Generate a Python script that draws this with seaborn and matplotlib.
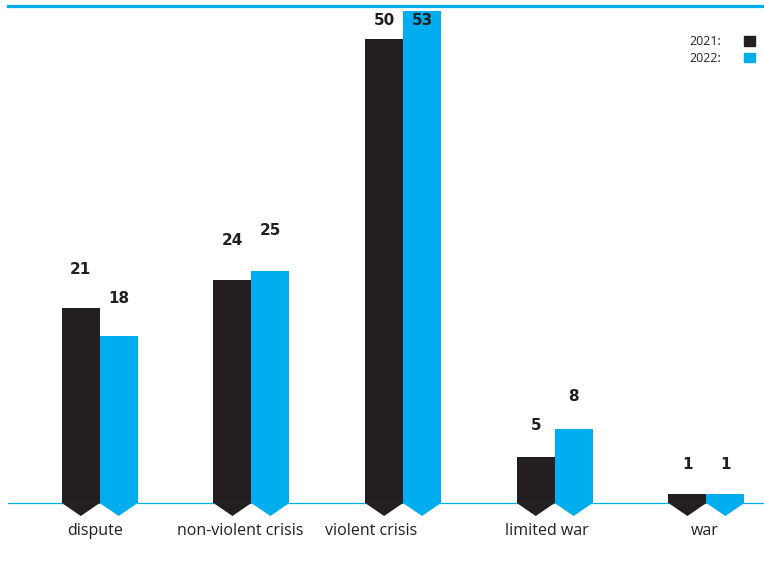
import pandas as pd
import matplotlib
matplotlib.use("Agg")
import matplotlib.pyplot as plt
from matplotlib.patches import Polygon
import seaborn as sns

# data
categories = ["dispute", "non-violent crisis", "violent crisis", "limited war", "war"]
years = ["2021", "2022"]
values_2021 = [21, 24, 50, 5, 1]
values_2022 = [18, 25, 53, 8, 1]

# small horizontal nudges of the category labels, as in the original layout
label_shift = [-0.033, -0.072, -0.21, -0.053, -0.013]

df = pd.DataFrame({
    "category": categories * 2,
    "year": [years[0]] * 5 + [years[1]] * 5,
    "count": values_2021 + values_2022,
})

black = "#231f20"
blue = "#00adef"

sns.set_style("white")
plt.rcParams["font.family"] = ["Open Sans", "DejaVu Sans"]

fig = plt.figure(figsize=(7.64, 5.72), dpi=100)
ax = fig.add_axes([8 / 764, 1 - 520 / 572, 756 / 764, (520 - 6) / 572])

sns.barplot(data=df, x="category", y="count", hue="year", order=categories,
            hue_order=years, palette=[black, blue], width=0.5, saturation=1,
            linewidth=0, ax=ax, zorder=3, legend=False)

ax.set_xlim(-0.605, 4.38)
ax.set_ylim(-1.83, 53.56)

# pointed bottoms under each bar + value labels
for patch in list(ax.patches):
    x, w, h = patch.get_x(), patch.get_width(), patch.get_height()
    if w == 0:
        continue
    tri = Polygon([(x, 0), (x + w, 0), (x + w / 2, -1.4)], closed=True,
                  facecolor=patch.get_facecolor(), edgecolor="none", zorder=3)
    ax.add_patch(tri)
    ax.text(x + w / 2, min(h + 3.1 + 0.05 * h, 52), f"{h:.0f}", ha="center",
            va="center", fontsize=11, fontweight="bold", color=black, zorder=4,
            family=["Liberation Sans Narrow", "DejaVu Sans"])

ax.axhline(0, color=blue, lw=0.9, zorder=1)

for s in ["left", "right", "bottom"]:
    ax.spines[s].set_visible(False)
ax.spines["top"].set_color(blue)
ax.spines["top"].set_linewidth(2.3)

ax.set_yticks([])
ax.set_xticks([i + d for i, d in enumerate(label_shift)])
ax.set_xticklabels(categories)
ax.set_xlabel("")
ax.set_ylabel("")
ax.tick_params(axis="x", length=0, pad=2, labelsize=11.5, labelcolor=black)

# legend
handles = [plt.Rectangle((0, 0), 1, 1, color=c) for c in [black, blue]]
ax.legend(handles, [y + ":" for y in years], markerfirst=False, frameon=False,
          loc="upper right", bbox_to_anchor=(1.0, 0.96), fontsize=9,
          handlelength=0.9, handleheight=0.8, handletextpad=1.8,
          labelspacing=0.3, borderaxespad=0.3)

fig.savefig("out.png", dpi=100)
